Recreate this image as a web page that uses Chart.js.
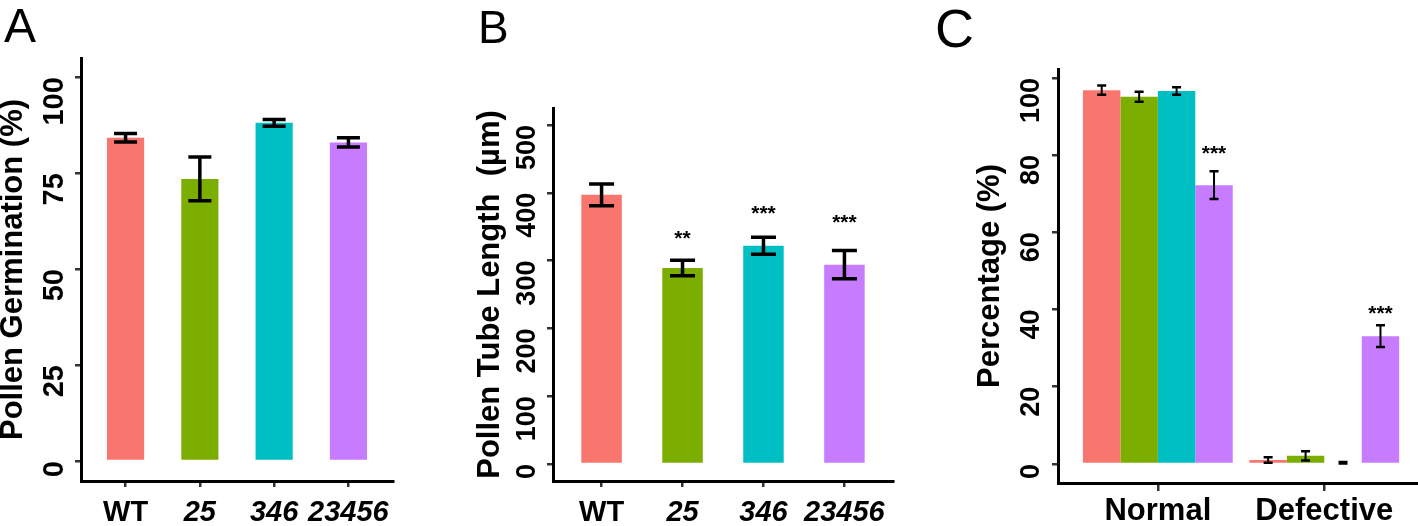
<!DOCTYPE html>
<html>
<head>
<meta charset="utf-8">
<title>Pollen germination, tube length and phenotype</title>
<script src="https://cdn.jsdelivr.net/npm/chart.js@4.4.1/dist/chart.umd.min.js"></script>
<style>
  html, body { margin: 0; padding: 0; background: #fff; overflow: hidden; }
  #wrap { position: relative; width: 1418px; height: 526px; }
  .panel { position: absolute; top: 0; }
  .letter { position: absolute; font-family: 'Liberation Sans', Arial, sans-serif; line-height: 1; color: #000; }
</style>
</head>
<body>
<div id="wrap">
  <canvas id="chart-a" class="panel" style="left:0px" width="470" height="526"></canvas>
  <canvas id="chart-b" class="panel" style="left:470px" width="450" height="526"></canvas>
  <canvas id="chart-c" class="panel" style="left:920px" width="498" height="526"></canvas>
  <div class="letter" style="left:4px;top:2px;font-size:48px">A</div>
  <div class="letter" style="left:478px;top:4px;font-size:46px">B</div>
  <div class="letter" style="left:935px;top:1px;font-size:54px">C</div>
</div>
<script>
'use strict';

// ************* Data **************
let genotypes = ['WT', '25', '346', '23456'];
let genoColors = ['#F8766D', '#7CAE00', '#00BFC4', '#C77CFF'];

// A - pollen germination (%)
let germValues = [84.2, 73.5, 88.1, 83.0];
let germErrors = [1.1, 5.7, 0.9, 1.2];
let germTicks = [0, 25, 50, 75, 100];

// B - pollen tube length (um)
let tubeValues = [397, 289, 322, 294];
let tubeErrors = [16, 11.5, 12.6, 20.7];
let tubeStars = ['', '**', '***', '***'];
let tubeStarY = [null, 338, 374, 361];
let tubeTicks = [0, 100, 200, 300, 400, 500];

// C - percentage normal / defective, one value per genotype
let phenoCategories = ['Normal', 'Defective'];
let normalValues = [96.8, 95.1, 96.6, 72.2];
let normalErrors = [1.2, 1.3, 1.0, 3.6];
let defectValues = [1.0, 2.1, 0.3, 33.1];
let defectErrors = [0.7, 1.2, 0.2, 2.8];
let normalStars = ['', '', '', '***'];
let defectStars = ['', '', '', '***'];
let normalStarY = [null, null, null, 81.4];
let defectStarY = [null, null, null, 39.8];
let phenoTicks = [0, 20, 40, 60, 80, 100];

const FONT = "'Liberation Sans', Arial, Helvetica, sans-serif";

// ************** Plugin: error bars + stars *************
const errorBars = {
  id: 'errorBars',
  afterDatasetsDraw(chart, args, opts) {
    let ctx = chart.ctx;
    let yScale = chart.scales.y;
    ctx.save();
    ctx.strokeStyle = '#000';
    ctx.fillStyle = '#000';
    chart.data.datasets.forEach((ds, di) => {
      let meta = chart.getDatasetMeta(di);
      meta.data.forEach((bar, i) => {
        let v = ds.data[i];
        let e = opts.errors[di][i];
        let top = yScale.getPixelForValue(v + e);
        let bot = yScale.getPixelForValue(v - e);
        let half = opts.cap / 2;
        ctx.lineWidth = opts.lineWidth;
        ctx.beginPath();
        ctx.moveTo(bar.x, top);
        ctx.lineTo(bar.x, bot);
        ctx.stroke();
        ctx.lineWidth = opts.capWidth;
        ctx.beginPath();
        ctx.moveTo(bar.x - half, top);
        ctx.lineTo(bar.x + half, top);
        ctx.moveTo(bar.x - half, bot);
        ctx.lineTo(bar.x + half, bot);
        ctx.stroke();

        let star = opts.stars ? opts.stars[di][i] : '';
        if (star) {
          ctx.font = 'bold 21px ' + FONT;
          ctx.textAlign = 'center';
          ctx.textBaseline = 'alphabetic';
          let m = ctx.measureText(star);
          let sy = yScale.getPixelForValue(opts.starY[di][i]);
          ctx.fillText(star, bar.x, sy + (m.actualBoundingBoxAscent - m.actualBoundingBoxDescent) / 2);
        }
      });
    });
    ctx.restore();
  }
};

// ************** Helpers *************
function yAxis(cfg) {
  return {
    type: 'linear',
    min: cfg.min,
    max: cfg.max,
    afterBuildTicks: s => { s.ticks = cfg.ticks.map(v => ({value: v})); },
    afterFit: s => { s.width = cfg.width; },
    border: {display: true, color: '#000', width: 3},
    grid: {display: true, drawOnChartArea: false, drawTicks: true, tickLength: 6, color: '#333', lineWidth: 2.5},
    ticks: {
      autoSkip: false,
      minRotation: 90,
      maxRotation: 90,
      padding: cfg.tickPad,
      color: '#000',
      font: {family: FONT, size: cfg.tickSize, weight: 'bold'}
    },
    title: {
      display: true,
      text: cfg.title,
      color: '#000',
      font: {family: FONT, size: 31, weight: 'bold', lineHeight: 0.9},
      padding: {top: cfg.titlePad, bottom: 0}
    }
  };
}

function xAxis(cfg) {
  return {
    type: 'category',
    afterBuildTicks: s => {
      s._startValue = cfg.lo;
      s._valueRange = cfg.hi - cfg.lo;
    },
    afterFit: s => { s.height = cfg.height; },
    border: {display: true, color: '#000', width: 3},
    grid: {display: true, offset: false, drawOnChartArea: false, drawTicks: true, tickLength: cfg.tickLength, color: '#333', lineWidth: 2.5},
    ticks: {
      autoSkip: false,
      maxRotation: 0,
      padding: cfg.tickPad,
      color: '#000',
      font: c => ({family: FONT, size: cfg.size, weight: 'bold', style: cfg.italic && c.index > 0 ? 'italic' : 'normal'})
    }
  };
}

function baseOptions(pad) {
  return {
    responsive: false,
    animation: false,
    layout: {padding: pad},
    plugins: {legend: {display: false}, tooltip: {enabled: false}}
  };
}

// ************** Chart A *************
let optsA = baseOptions({left: 0, top: 58, right: 77, bottom: 0});
optsA.scales = {
  x: xAxis({lo: -0.6, hi: 3.6, height: 45, tickLength: 6, tickPad: 9, size: 29, italic: true}),
  y: yAxis({min: -5.2, max: 105, ticks: germTicks, width: 81, tickPad: 20, tickSize: 29, title: 'Pollen Germination (%)', titlePad: 0})
};
optsA.plugins.errorBars = {errors: [germErrors], lineWidth: 3.5, capWidth: 3.5, cap: 23};

new Chart(document.getElementById('chart-a'), {
  type: 'bar',
  data: {
    labels: genotypes,
    datasets: [{data: germValues, backgroundColor: genoColors, borderWidth: 0, categoryPercentage: 1, barPercentage: 0.5}]
  },
  options: optsA,
  plugins: [errorBars]
});

// ************** Chart B *************
let optsB = baseOptions({left: 0, top: 108, right: 27, bottom: 0});
optsB.scales = {
  x: xAxis({lo: -0.6, hi: 3.6, height: 45, tickLength: 6, tickPad: 9, size: 29, italic: true}),
  y: yAxis({min: -25, max: 525, ticks: tubeTicks, width: 83, tickPad: 19, tickSize: 27, title: 'Pollen Tube Length  (\u00b5m)', titlePad: 7})
};
optsB.plugins.errorBars = {errors: [tubeErrors], stars: [tubeStars], starY: [tubeStarY], lineWidth: 3.5, capWidth: 3.5, cap: 25};

new Chart(document.getElementById('chart-b'), {
  type: 'bar',
  data: {
    labels: genotypes,
    datasets: [{data: tubeValues, backgroundColor: genoColors, borderWidth: 0, categoryPercentage: 1, barPercentage: 0.5}]
  },
  options: optsB,
  plugins: [errorBars]
});

// ************** Chart C *************
let phenoSets = [];
let phenoErr = [];
let phenoStars = [];
let phenoStarY = [];
for (let i = 0; i < genotypes.length; i++) {
  phenoSets.push({
    label: genotypes[i],
    data: [normalValues[i], defectValues[i]],
    backgroundColor: genoColors[i],
    borderWidth: 0,
    categoryPercentage: 0.9,
    barPercentage: 1
  });
  phenoErr.push([normalErrors[i], defectErrors[i]]);
  phenoStars.push([normalStars[i], defectStars[i]]);
  phenoStarY.push([normalStarY[i], defectStarY[i]]);
}

let optsC = baseOptions({left: 0, top: 69, right: 0, bottom: 0});
optsC.scales = {
  x: xAxis({lo: -0.6, hi: 1.563, height: 43, tickLength: 8, tickPad: 2, size: 31, italic: false}),
  y: yAxis({min: -4.94, max: 102.3, ticks: phenoTicks, width: 138, tickPad: 20, tickSize: 27, title: 'Percentage (%)', titlePad: 57})
};
optsC.plugins.errorBars = {errors: phenoErr, stars: phenoStars, starY: phenoStarY, lineWidth: 2, capWidth: 2.5, cap: 9};

new Chart(document.getElementById('chart-c'), {
  type: 'bar',
  data: {labels: phenoCategories, datasets: phenoSets},
  options: optsC,
  plugins: [errorBars]
});
</script>
</body>
</html>
